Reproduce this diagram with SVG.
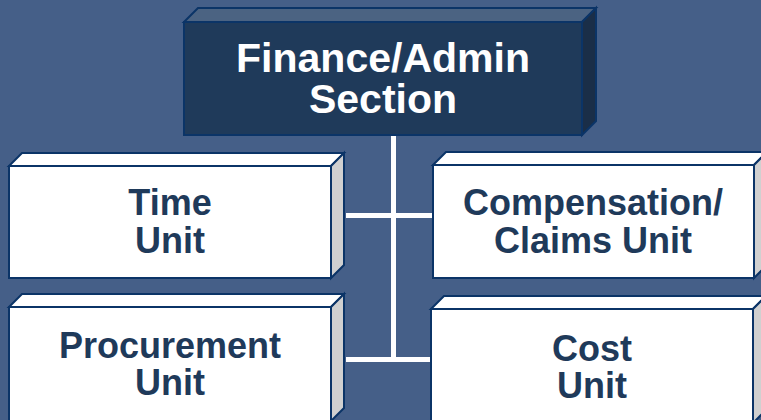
<svg xmlns="http://www.w3.org/2000/svg" width="761" height="420" viewBox="0 0 761 420">
<style>
.bg{fill:#455f88}
.ln{stroke:#ffffff;stroke-width:5;fill:none}
.box path,.box rect{stroke:#0b3467;stroke-width:2;stroke-linejoin:miter}
.wf{fill:#ffffff}
.ws{fill:#d0d0d0}
.df{fill:#1f3a5a}
.dt{fill:#4b6382}
.ds{fill:#1a2e48}
.t{font-family:"Liberation Sans",Arial,sans-serif;font-weight:bold;text-anchor:middle}
.tw{fill:#ffffff;font-size:41px}
.tn{fill:#1f3a5a;font-size:36px}
</style>
<rect class="bg" x="0" y="0" width="761" height="420"/>
<g id="connectors">
<line class="ln" x1="393.5" y1="135" x2="393.5" y2="362"/>
<line class="ln" x1="346" y1="215.5" x2="433" y2="215.5"/>
<line class="ln" x1="346" y1="359.5" x2="431" y2="359.5"/>
</g>
<g id="finance" class="box">
<path class="dt" d="M184,22 L198,8 L596,8 L582,22 Z"/>
<path class="ds" d="M582,22 L596,8 L596,121 L582,135 Z"/>
<rect class="df" x="184" y="22" width="398" height="113"/>
<text class="t tw" x="383" y="72">Finance/Admin</text>
<text class="t tw" x="383" y="113">Section</text>
</g>
<g id="time" class="box">
<path class="wf" d="M9,166 L22,153 L344,153 L331,166 Z"/>
<path class="ws" d="M331,166 L344,153 L344,265 L331,278 Z"/>
<rect class="wf" x="9" y="166" width="322" height="112"/>
<text class="t tn" x="170" y="215">Time</text>
<text class="t tn" x="170" y="253">Unit</text>
</g>
<g id="compensation" class="box">
<path class="wf" d="M433,165 L446,152 L767,152 L754,165 Z"/>
<path class="ws" d="M754,165 L767,152 L767,265 L754,278 Z"/>
<rect class="wf" x="433" y="165" width="321" height="113"/>
<text class="t tn" x="593" y="215">Compensation/</text>
<text class="t tn" x="593" y="253">Claims Unit</text>
</g>
<g id="procurement" class="box">
<path class="wf" d="M9,307 L22,294 L344,294 L331,307 Z"/>
<path class="ws" d="M331,307 L344,294 L344,408 L331,421 Z"/>
<rect class="wf" x="9" y="307" width="322" height="114"/>
<text class="t tn" x="170" y="358">Procurement</text>
<text class="t tn" x="170" y="395">Unit</text>
</g>
<g id="cost" class="box">
<path class="wf" d="M431,309 L444,296 L766,296 L753,309 Z"/>
<path class="ws" d="M753,309 L766,296 L766,410 L753,423 Z"/>
<rect class="wf" x="431" y="309" width="322" height="114"/>
<text class="t tn" x="592" y="361">Cost</text>
<text class="t tn" x="592" y="398">Unit</text>
</g>
</svg>
